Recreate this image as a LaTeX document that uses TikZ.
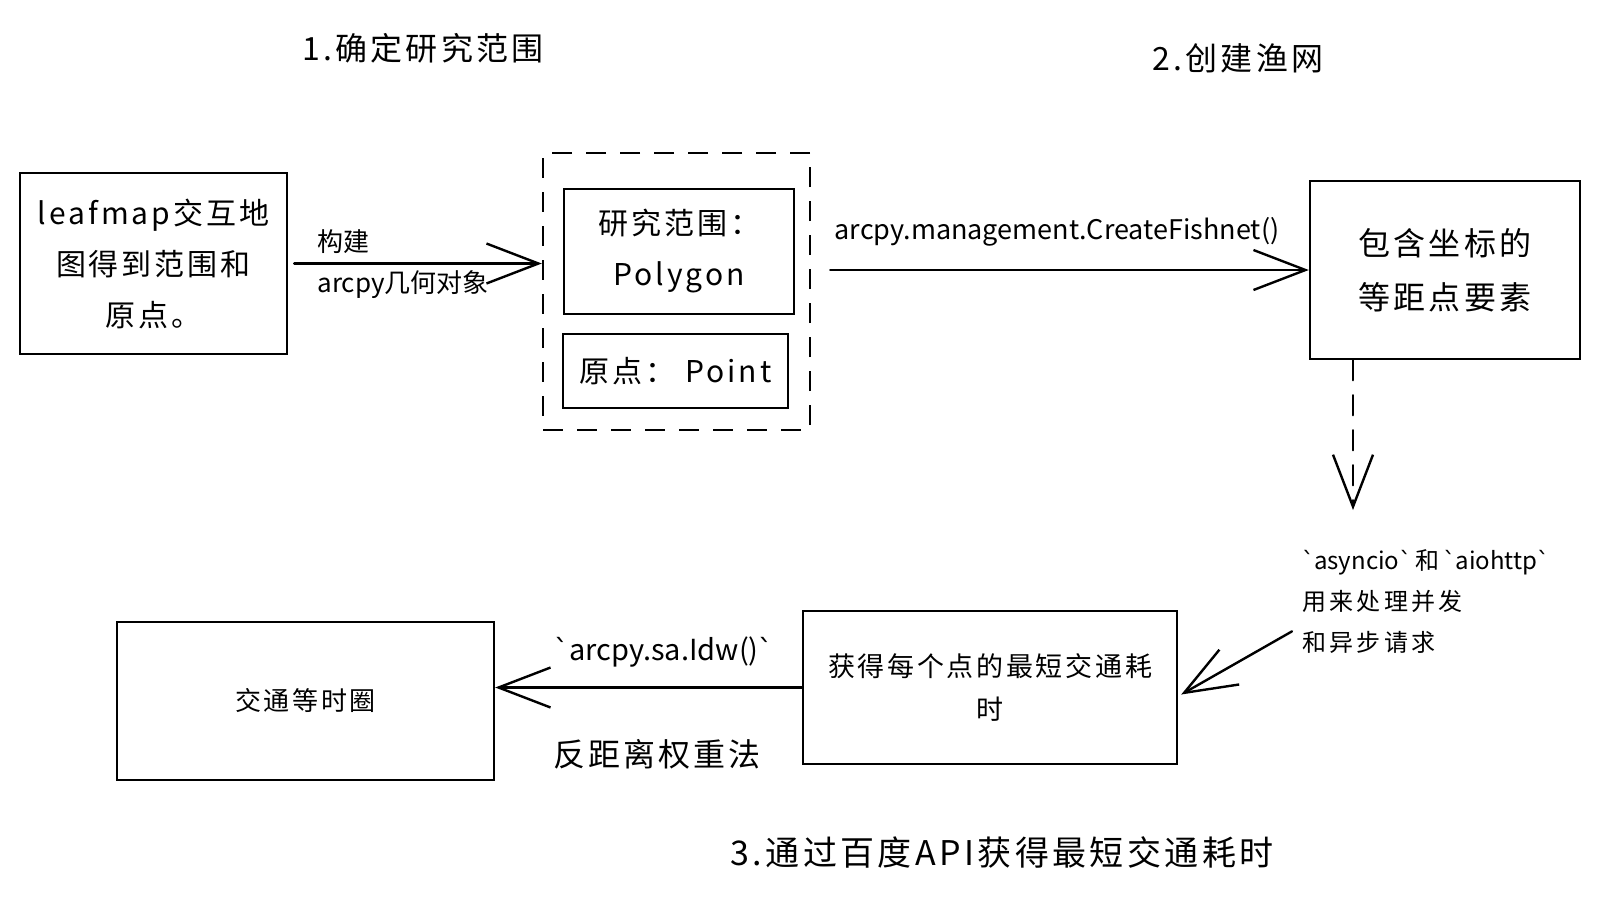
\documentclass[tikz,border=0pt]{standalone}
\usepackage{fontspec}
\setmainfont{Noto Sans CJK SC}[LetterSpace=10]
\newfontfamily\tickfont{DejaVu Sans}
\newcommand{\bq}{{\tickfont\symbol{"60}}}
\newcommand{\tight}{\addfontfeature{LetterSpace=0}}
\newcommand{\loose}{\addfontfeature{LetterSpace=14}}
\usetikzlibrary{arrows.meta, positioning}
\tikzset{
	sketch/.is family,
	sketch/.cd,
	box/.style = {
		draw,
		line width = 2.4pt,
		align = center,
		inner sep = 0pt,
		font = \fontsize{30}{51}\selectfont,
	},
	frame/.style = {
		draw,
		line width = 2.4pt,
		dash pattern = on 20pt off 14pt,
	},
	flow/.style = {
		line width = 2.4pt,
		line cap = round,
		-{Straight Barb[length = 52pt, width = 40pt]},
	},
	label/.style = {
		inner sep = 0pt,
		font = \fontsize{26}{36}\selectfont\tight,
	},
	title/.style = {
		inner sep = 0pt,
		font = \fontsize{32}{40}\selectfont,
	},
}

\begin{document}
\begin{tikzpicture}[
		x = 1pt, y = -1pt,
		smallbox/.style = {
			sketch/box,
			font = \fontsize{27}{43}\selectfont
		}]
		\useasboundingbox (0, 0) rectangle (1598, 898);
		% step titles
		\node[sketch/title] (title-1) at (423, 48) {1.确定研究范围};
		\node[sketch/title] (title-2) at (1238, 58) {2.创建渔网};
		\node[sketch/title, font = \fontsize{34}{40}\selectfont] (title-3) at (1002, 852) {3.通过百度API获得最短交通耗时};
		% top row
		\node[sketch/box, minimum width = 267pt, minimum height = 181pt] (leafmap) at (153.5, 263.5) {leafmap交互地\\图得到范围和\\原点。};
		\node[sketch/frame, minimum width = 267pt, minimum height = 277pt] (geom) at (676.5, 291.5) {};
		\node[sketch/box, minimum width = 230pt, minimum height = 125pt] (geom-polygon) at (679, 251.5) {研究范围：\\Polygon};
		\node[sketch/box, minimum width = 225pt, minimum height = 74pt] (geom-point) at (675.5, 371) {原点： Point};
		\node[sketch/box, minimum width = 270pt, minimum height = 178pt, font = \fontsize{32}{54}\selectfont] (fishnet) at (1445, 270) {包含坐标的\\等距点要素};
		\draw[sketch/flow] ([xshift = 6pt]leafmap.east) -- (leafmap.east -| geom.west);
		\node[sketch/label] (build) at (343, 242) {构建};
		\node[sketch/label] (build-obj) at (403, 285) {arcpy几何对象};
		\draw[sketch/flow] ([xshift = 19pt]geom.east |- fishnet.west) -- (fishnet.west);
		\node[sketch/label, font = \fontsize{27}{36}\selectfont\tight] (fishnet-call) at (1057, 232) {arcpy.management.CreateFishnet()};
		% down to the requests
		\coordinate (fishnet-out) at (1353, 510);
		\draw[sketch/flow, dash pattern = on 20pt off 15pt] (fishnet.south -| fishnet-out) -- (fishnet-out);
		\node[sketch/label, align = left, anchor = north west, font = \fontsize{24}{41}\selectfont\tight] (async) at (1302, 549) {\bq asyncio\bq\,和\,\bq aiohttp\bq\\{\loose 用来处理并发}\\{\loose 和异步请求}};
		% bottom row
		\node[smallbox, minimum width = 374pt, minimum height = 153pt] (cost) at (990, 687.5) {获得每个点的最短交通耗\\时};
		\node[smallbox, minimum width = 377pt, minimum height = 158pt, font = \fontsize{26}{36}\selectfont] (iso) at (305.5, 701) {交通等时圈};
		\draw[sketch/flow] ([xshift = -10pt, yshift = 22pt]async.south west) -- ([xshift = 3pt, yshift = -7pt]cost.east);
		\draw[sketch/flow] (cost.west) -- (cost.west -| iso.east);
		\node[sketch/label, font = \fontsize{29}{36}\selectfont\tight] (idw) at (664, 652) {\bq arcpy.sa.Idw()\bq};
		\node[sketch/label, font = \fontsize{32}{36}\selectfont] (idw-name) at (657, 754) {反距离权重法};
	\end{tikzpicture}
\end{document}
